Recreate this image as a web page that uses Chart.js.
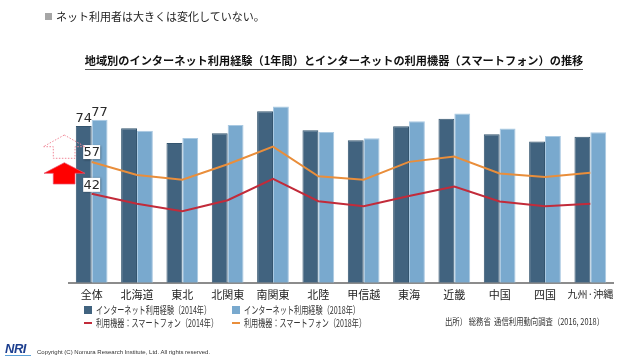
<!DOCTYPE html>
<html><head><meta charset="utf-8">
<script src="https://cdn.jsdelivr.net/npm/chart.js@4/dist/chart.umd.min.js"></script>
<style>
html,body{margin:0;padding:0;background:#fff;}
body{width:640px;height:360px;position:relative;overflow:hidden;font-family:"Noto Sans CJK JP","Noto Sans",sans-serif;color:#222;}
.abs{position:absolute;white-space:nowrap;}
#chartWrap{position:absolute;left:0;top:0;width:640px;height:360px;}
.lg{font-size:10.5px;line-height:12px;color:#333;transform-origin:0 50%;}
</style></head>
<body>
<div id="chartWrap"><canvas id="c" width="640" height="360"></canvas></div>

<div class="abs" style="left:45px;top:13px;width:7px;height:7px;background:#a6a6a6;"></div>
<div class="abs" style="left:56px;top:8px;font-size:11px;line-height:16px;color:#222;">ネット利用者は大きくは変化していない。</div>

<div class="abs" style="left:0;width:668px;text-align:center;top:53px;font-size:11.2px;line-height:15px;font-weight:bold;color:#111;"><span style="border-bottom:1px solid #555;padding-bottom:1px;">地域別のインターネット利用経験（1年間）とインターネットの利用機器（スマートフォン）の推移</span></div>

<!-- legend -->
<div class="abs" style="left:84px;top:306px;width:8px;height:8px;background:#41637F;"></div>
<div class="abs lg fit" data-w="115" style="left:96px;top:304px;">インターネット利用経験（2014年）</div>
<div class="abs" style="left:232px;top:306px;width:8px;height:8px;background:#79A9CE;"></div>
<div class="abs lg fit" data-w="116" style="left:244px;top:304px;">インターネット利用経験（2018年）</div>
<div class="abs" style="left:84px;top:322px;width:8px;height:2px;background:#C22B3A;"></div>
<div class="abs lg fit" data-w="122" style="left:96px;top:317px;">利用機器：スマートフォン（2014年）</div>
<div class="abs" style="left:232px;top:322px;width:8px;height:2px;background:#E98E3B;"></div>
<div class="abs lg fit" data-w="122" style="left:244px;top:317px;">利用機器：スマートフォン（2018年）</div>

<div class="abs fit" data-w="159" style="left:445px;top:317px;font-size:9px;line-height:10px;color:#333;transform-origin:0 50%;">出所）&nbsp;総務省&nbsp;&nbsp;通信利用動向調査（2016, 2018）</div>

<!-- footer -->
<div class="abs" style="left:5px;top:341px;font-family:'Liberation Sans',Arial,sans-serif;font-weight:bold;font-style:italic;font-size:13px;line-height:15px;color:#1d3f8f;letter-spacing:-0.5px;">NRI</div>
<div class="abs" style="left:5px;top:355px;width:26px;height:1px;background:#5aa0d8;"></div>
<div class="abs" style="left:37px;top:348px;font-family:'Liberation Sans',Arial,sans-serif;font-size:6px;line-height:8px;color:#333;">Copyright (C) Nomura Research Institute, Ltd. All rights reserved.</div>

<!-- arrows -->
<svg class="abs" style="left:0;top:0;" width="640" height="360">
  <polygon points="64.3,135 85,146.7 75,146.7 75,158.3 53.3,158.3 53.3,146.7 43.3,146.7" fill="none" stroke="#f08898" stroke-width="1" stroke-dasharray="1.5,1.5"/>
  <polygon points="64.3,162.7 85,173.3 75,173.3 75,184 53.3,184 53.3,173.3 44,173.3" fill="#ff0000" stroke="#e8506a" stroke-width="0.7"/>
</svg>

<script>
document.querySelectorAll('.fit').forEach(el => {
  const w = el.getBoundingClientRect().width;
  const target = parseFloat(el.dataset.w);
  if (w > 0) el.style.transform = 'scaleX(' + (target / w) + ')';
});

const categories = ['全体','北海道','東北','北関東','南関東','北陸','甲信越','東海','近畿','中国','四国','九州·沖縄'];
const internet2014 = [74, 73, 66, 70.6, 81, 72, 67.3, 73.9, 77.5, 70.1, 66.7, 69];
const internet2018 = [77, 71.8, 68.4, 74.5, 83.2, 71.2, 68.2, 76.3, 79.9, 72.8, 69.3, 71.1];
const smartphone2014 = [42, 37.3, 33.8, 39, 49.1, 38.5, 36.2, 41, 45.4, 38.4, 36.2, 37.3];
const smartphone2018 = [57, 50.9, 48.7, 56, 64.3, 50.3, 48.7, 57.1, 59.6, 51.6, 50, 52];
const labeledIndex = 0;

const labelPlugin = {
  id: 'valueLabels',
  afterDatasetsDraw(chart) {
    const ctx = chart.ctx;
    ctx.save();
    ctx.font = '13px "DejaVu Sans", "Noto Sans", sans-serif';
    ctx.fillStyle = '#2a2a2a';
    ctx.textAlign = 'center';
    [[2, internet2014], [3, internet2018]].forEach(([di, arr]) => {
      const el = chart.getDatasetMeta(di).data[labeledIndex];
      ctx.textBaseline = 'bottom';
      ctx.fillText(String(Math.round(arr[labeledIndex])), el.x, el.y - 1);
    });
    [[1, smartphone2018, 10], [0, smartphone2014, 9]].forEach(([di, arr, off]) => {
      const el = chart.getDatasetMeta(di).data[labeledIndex];
      const cy = el.y - off;
      const w = 17, h = 14;
      ctx.shadowColor = 'rgba(0,0,0,0.35)';
      ctx.shadowBlur = 2;
      ctx.shadowOffsetX = 0.5;
      ctx.shadowOffsetY = 0.5;
      ctx.fillStyle = '#ffffff';
      ctx.fillRect(el.x - w/2, cy - h/2, w, h);
      ctx.shadowColor = 'transparent';
      ctx.fillStyle = '#2a2a2a';
      ctx.textBaseline = 'middle';
      ctx.fillText(String(Math.round(arr[labeledIndex])), el.x, cy + 0.5);
    });
    ctx.restore();
  }
};

new Chart(document.getElementById('c'), {
  type: 'bar',
  data: {
    labels: categories,
    datasets: [
      { type: 'line', label: '利用機器：スマートフォン（2014年）', data: smartphone2014, borderColor: '#C22B3A', backgroundColor: '#C22B3A', borderWidth: 2, pointRadius: 0, tension: 0, order: 1 },
      { type: 'line', label: '利用機器：スマートフォン（2018年）', data: smartphone2018, borderColor: '#E98E3B', backgroundColor: '#E98E3B', borderWidth: 2, pointRadius: 0, tension: 0, order: 1 },
      { label: 'インターネット利用経験（2014年）', data: internet2014, backgroundColor: '#41637F', borderColor: '#34556f', borderWidth: 1, categoryPercentage: 0.7, barPercentage: 1.0, order: 2 },
      { label: 'インターネット利用経験（2018年）', data: internet2018, backgroundColor: '#79A9CE', borderColor: '#a9c9e2', borderWidth: 1, categoryPercentage: 0.7, barPercentage: 1.0, order: 2 }
    ]
  },
  options: {
    responsive: false,
    animation: false,
    devicePixelRatio: 1,
    layout: { padding: { left: 69, right: 27, top: 71, bottom: 54 } },
    plugins: { legend: { display: false }, tooltip: { enabled: false } },
    scales: {
      x: {
        grid: { display: false, drawTicks: false },
        border: { display: true, color: '#8c8c8c', width: 2 },
        ticks: {
          padding: 5,
          color: '#222',
          maxRotation: 0,
          autoSkip: false,
          font: (c) => ({ family: '"Noto Sans CJK JP", sans-serif', size: c.index === 11 ? 10 : 11 })
        }
      },
      y: { display: false, min: 0, max: 100 }
    }
  },
  plugins: [labelPlugin]
});
</script>
</body></html>
